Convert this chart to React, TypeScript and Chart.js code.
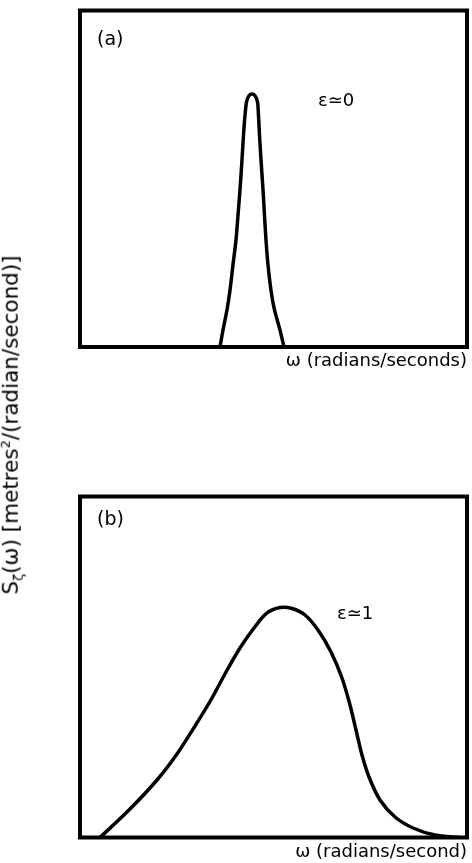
import { useEffect, useRef } from "react";
import { Chart, registerables } from "chart.js";

Chart.register(...registerables);

// Narrow-band spectrum (ε ≃ 0): relative frequency vs. relative spectral density
const omegaNarrow = [
  36.18, 36.95, 37.98, 38.76, 39.53, 40.31, 40.83, 41.34, 41.86, 42.25, 42.64, 43.02, 43.67, 44.44,
  45.22, 45.87, 46.12, 46.38, 46.77, 47.29, 47.67, 48.06, 48.58, 49.35, 50.26, 51.68, 52.71,
];
const spectrumNarrow = [
  0, 5.05, 11.0, 16.9, 24.4, 31.8, 39.2, 46.7, 55.6, 63.0, 68.9, 72.8, 74.7, 75.2,
  74.7, 72.8, 68.9, 63.0, 55.6, 46.7, 39.2, 31.8, 24.4, 16.9, 11.0, 5.05, 0,
];

// Broad-band spectrum (ε ≃ 1)
const omegaBroad = [
  5.17, 12.92, 19.9, 25.06, 29.72, 34.11, 37.73, 41.34, 44.96, 48.32, 51.68, 54.78, 58.14,
  61.5, 64.86, 67.7, 69.77, 71.32, 72.87, 74.68, 77.52, 81.4, 86.05, 91.73, 98.19,
];
const spectrumBroad = [
  0, 8.36, 16.86, 24.49, 32.7, 40.91, 48.53, 55.57, 61.44, 65.84, 67.45, 67.16, 65.25,
  60.85, 54.4, 46.77, 38.86, 31.52, 24.19, 17.74, 11.0, 6.01, 2.79, 0.73, 0,
];

const panelTags = ["(a)", "(b)"];
const bandwidthTags = ["ε≃0", "ε≃1"];
const xTitles = ["ω (radians/seconds)", "ω (radians/second)"];

const FONT = "'DejaVu Sans', 'Liberation Sans', Arial, sans-serif";

type PanelProps = {
  omega: number[];
  spectrum: number[];
  tag: string;
  bandTag: string;
  xTitle: string;
  top: number;
  height: number;
  padTop: number;
  padBottom: number;
  titleGap: number;
  tagDy: number;
  tension: number;
  bandOffset: { dx: number; dy: number };
};

function Panel(p: PanelProps) {
  const ref = useRef<HTMLCanvasElement | null>(null);

  useEffect(() => {
    if (!ref.current) return;

    // Box round the plot area, plus the panel letter and bandwidth note
    const framePlugin = {
      id: "frameAndTags",
      afterDraw(chart: Chart) {
        const { ctx, chartArea } = chart;
        const { left, top, right, bottom } = chartArea;
        ctx.save();
        ctx.strokeStyle = "#000";
        ctx.lineWidth = 4;
        ctx.lineJoin = "miter";
        ctx.strokeRect(left, top, right - left, bottom - top);

        ctx.fillStyle = "#000";
        ctx.textBaseline = "middle";
        ctx.textAlign = "left";
        ctx.font = `19px ${FONT}`;
        ctx.fillText(p.tag, left + 17, top + p.tagDy);
        ctx.font = `18px ${FONT}`;
        ctx.fillText(p.bandTag, left + p.bandOffset.dx, top + p.bandOffset.dy);
        ctx.restore();
      },
    };

    const chart = new Chart(ref.current, {
      type: "line",
      data: {
        datasets: [
          {
            data: p.omega.map((x, i) => ({ x, y: p.spectrum[i] })),
            borderColor: "#000",
            borderWidth: 3.5,
            borderJoinStyle: "round",
            pointRadius: 0,
            fill: false,
            tension: p.tension,
          },
        ],
      },
      options: {
        animation: false,
        responsive: false,
        devicePixelRatio: 1,
        layout: {
          padding: { left: 80, right: 5, top: p.padTop, bottom: p.padBottom },
        },
        plugins: {
          legend: { display: false },
          tooltip: { enabled: false },
        },
        scales: {
          x: {
            type: "linear",
            min: 0,
            max: 100,
            grid: { display: false, drawTicks: false },
            border: { display: false },
            ticks: { display: false },
            title: {
              display: true,
              text: p.xTitle,
              align: "end",
              color: "#000",
              font: { family: FONT, size: 18 },
              padding: { top: p.titleGap, bottom: 0 },
            },
          },
          y: {
            type: "linear",
            min: 0,
            max: 100,
            display: false,
          },
        },
      },
      plugins: [framePlugin],
    });

    return () => chart.destroy();
  }, []);

  return (
    <div style={{ position: "absolute", left: 0, top: p.top, width: 472, height: p.height }}>
      <canvas ref={ref} width={472} height={p.height} style={{ display: "block" }} />
    </div>
  );
}

export default function App() {
  return (
    <div
      style={{
        position: "absolute",
        left: 0,
        top: 0,
        width: 472,
        height: 863,
        background: "#fff",
        overflow: "hidden",
      }}
    >
      <Panel
        omega={omegaNarrow}
        spectrum={spectrumNarrow}
        tag={panelTags[0]}
        bandTag={bandwidthTags[0]}
        xTitle={xTitles[0]}
        top={0}
        height={380}
        padTop={10.5}
        padBottom={8.2}
        titleGap={3.2}
        tagDy={29.5}
        tension={0.25}
        bandOffset={{ dx: 238, dy: 91 }}
      />
      <Panel
        omega={omegaBroad}
        spectrum={spectrumBroad}
        tag={panelTags[1]}
        bandTag={bandwidthTags[1]}
        xTitle={xTitles[1]}
        top={470}
        height={393}
        padTop={26.5}
        padBottom={0.2}
        titleGap={3.7}
        tagDy={23.5}
        tension={0.3}
        bandOffset={{ dx: 257, dy: 118 }}
      />
      <div
        style={{
          position: "absolute",
          left: 12,
          top: 425,
          transform: "translate(-50%, -50%) rotate(-90deg)",
          whiteSpace: "nowrap",
          fontFamily: FONT,
          fontSize: 21.5,
          color: "#000",
          lineHeight: 1,
        }}
      >
        S<sub style={{ fontSize: 13 }}>ζ</sub>(ω) [metres<sup style={{ fontSize: 13 }}>2</sup>/(radian/second)]
      </div>
    </div>
  );
}
